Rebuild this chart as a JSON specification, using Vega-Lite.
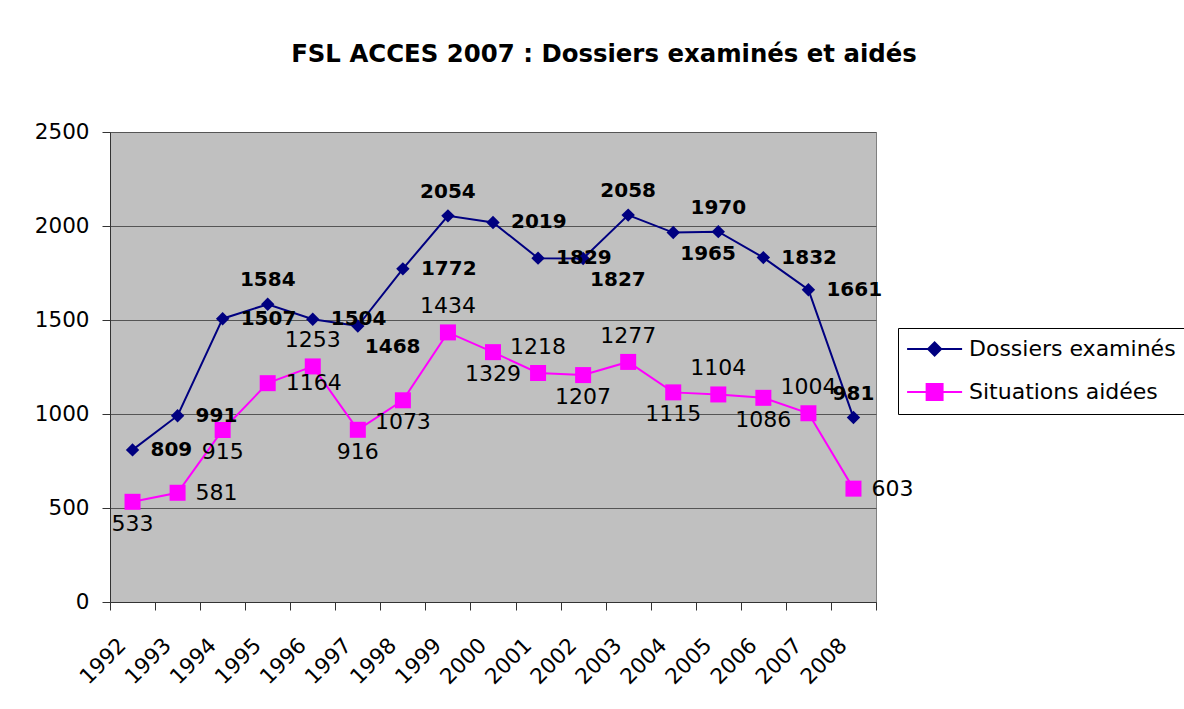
{
  "$schema": "https://vega.github.io/schema/vega-lite/v6.json",
  "width": 766,
  "height": 470,
  "autosize": {"type": "none"},
  "padding": {"left": 110, "top": 132, "right": 308, "bottom": 107},
  "background": "white",
  "title": {
    "text": "FSL ACCES 2007 : Dossiers examinés et aidés",
    "font": "DejaVu Sans",
    "fontSize": 24.4,
    "fontWeight": "bold",
    "color": "black",
    "anchor": "middle",
    "frame": "group",
    "dx": 111,
    "offset": 54
  },
  "config": {
    "view": {"fill": "#C0C0C0", "stroke": "#808080", "strokeWidth": 1},
    "axis": {
      "labelFont": "DejaVu Sans",
      "labelFontSize": 21.5,
      "labelColor": "black",
      "domainColor": "#333333",
      "tickColor": "#333333",
      "tickSize": 8,
      "title": null
    },
    "legend": {
      "orient": "none",
      "legendX": 788,
      "legendY": 196,
      "strokeColor": "black",
      "fillColor": "white",
      "padding": 10,
      "labelFont": "DejaVu Sans",
      "labelFontSize": 22,
      "labelColor": "black",
      "labelLimit": 400,
      "symbolSize": 189,
      "rowPadding": 20,
      "labelOffset": 39,
      "title": null
    }
  },
  "data": {
    "values": [
      {"year": "1992", "series": "Dossiers examinés", "value": 809},
      {"year": "1993", "series": "Dossiers examinés", "value": 991},
      {"year": "1994", "series": "Dossiers examinés", "value": 1507},
      {"year": "1995", "series": "Dossiers examinés", "value": 1584},
      {"year": "1996", "series": "Dossiers examinés", "value": 1504},
      {"year": "1997", "series": "Dossiers examinés", "value": 1468},
      {"year": "1998", "series": "Dossiers examinés", "value": 1772},
      {"year": "1999", "series": "Dossiers examinés", "value": 2054},
      {"year": "2000", "series": "Dossiers examinés", "value": 2019},
      {"year": "2001", "series": "Dossiers examinés", "value": 1829},
      {"year": "2002", "series": "Dossiers examinés", "value": 1827},
      {"year": "2003", "series": "Dossiers examinés", "value": 2058},
      {"year": "2004", "series": "Dossiers examinés", "value": 1965},
      {"year": "2005", "series": "Dossiers examinés", "value": 1970},
      {"year": "2006", "series": "Dossiers examinés", "value": 1832},
      {"year": "2007", "series": "Dossiers examinés", "value": 1661},
      {"year": "2008", "series": "Dossiers examinés", "value": 981},
      {"year": "1992", "series": "Situations aidées", "value": 533},
      {"year": "1993", "series": "Situations aidées", "value": 581},
      {"year": "1994", "series": "Situations aidées", "value": 915},
      {"year": "1995", "series": "Situations aidées", "value": 1164},
      {"year": "1996", "series": "Situations aidées", "value": 1253},
      {"year": "1997", "series": "Situations aidées", "value": 916},
      {"year": "1998", "series": "Situations aidées", "value": 1073},
      {"year": "1999", "series": "Situations aidées", "value": 1434},
      {"year": "2000", "series": "Situations aidées", "value": 1329},
      {"year": "2001", "series": "Situations aidées", "value": 1218},
      {"year": "2002", "series": "Situations aidées", "value": 1207},
      {"year": "2003", "series": "Situations aidées", "value": 1277},
      {"year": "2004", "series": "Situations aidées", "value": 1115},
      {"year": "2005", "series": "Situations aidées", "value": 1104},
      {"year": "2006", "series": "Situations aidées", "value": 1086},
      {"year": "2007", "series": "Situations aidées", "value": 1004},
      {"year": "2008", "series": "Situations aidées", "value": 603}
    ]
  },
  "transform": [
    {"window": [{"op": "lag", "field": "value", "as": "prev"}, {"op": "lead", "field": "value", "as": "next"}, {"op": "row_number", "as": "idx"}], "groupby": ["series"], "sort": [{"field": "year"}]},
    {"calculate": "datum.series === 'Situations aidées' ? (datum.next == null ? 'right' : datum.prev == null ? 'below' : (datum.value > datum.prev && datum.value > datum.next) ? 'above' : (datum.value < datum.prev && datum.value < datum.next) ? 'below' : (datum.idx % 2 === 1 ? 'below' : (datum.value < datum.prev ? 'above' : 'right'))) : (datum.prev == null ? 'right' : datum.next == null ? 'above' : (datum.value > datum.prev && datum.value > datum.next) ? 'above' : (datum.value < datum.prev && datum.value < datum.next) ? 'belowright' : 'right')", "as": "pos"}
  ],
  "encoding": {
    "x": {
      "field": "year",
      "type": "ordinal",
      "scale": {"paddingInner": 0, "paddingOuter": 0},
      "axis": {
        "tickBand": "extent",
        "labelAngle": -45,
        "labelAlign": "right",
        "labelBaseline": "middle",
        "labelPadding": 32,
        "labelOffset": -10,
        "grid": false
      }
    },
    "y": {
      "field": "value",
      "type": "quantitative",
      "scale": {"domain": [0, 2500], "nice": false},
      "axis": {
        "values": [0, 500, 1000, 1500, 2000, 2500],
        "format": "d",
        "grid": true,
        "gridColor": "#555555",
        "gridOpacity": 1,
        "labelPadding": 13
      }
    },
    "color": {
      "field": "series",
      "type": "nominal",
      "scale": {"domain": ["Dossiers examinés", "Situations aidées"], "range": ["#000080", "#FF00FF"]},
      "legend": {
        "encode": {
          "symbols": {
            "update": {
              "shape": {"signal": "datum.value === 'Dossiers examinés' ? 'M-1.73,0H6.27M2.27,-0.95L3.22,0L2.27,0.95L1.32,0Z' : 'M-1.73,0H6.27M1.11,-1.16H3.43V1.16H1.11Z'"},
              "fill": {"scale": "color", "field": "value"},
              "stroke": {"scale": "color", "field": "value"},
              "strokeWidth": {"value": 2},
              "opacity": {"value": 1},
              "fillOpacity": {"value": 1}
            }
          }
        }
      }
    }
  },
  "layer": [
    {"mark": {"type": "line", "strokeWidth": 2}},
    {
      "transform": [{"filter": "datum.series === 'Dossiers examinés'"}],
      "mark": {"type": "point", "shape": "diamond", "filled": true, "opacity": 1, "size": 180}
    },
    {
      "transform": [{"filter": "datum.series === 'Situations aidées'"}],
      "mark": {"type": "point", "shape": "square", "filled": true, "opacity": 1, "size": 256}
    },
    {
      "transform": [{"filter": "datum.series === 'Dossiers examinés' && datum.pos === 'right'"}],
      "mark": {"type": "text", "align": "left", "baseline": "middle", "dx": 18, "font": "DejaVu Sans", "fontSize": 20, "fontWeight": "bold"},
      "encoding": {"text": {"field": "value", "type": "quantitative", "format": "d"}, "color": {"value": "black"}}
    },
    {
      "transform": [{"filter": "datum.series === 'Dossiers examinés' && datum.pos === 'above'"}],
      "mark": {"type": "text", "align": "center", "baseline": "bottom", "dy": -14, "font": "DejaVu Sans", "fontSize": 20, "fontWeight": "bold"},
      "encoding": {"text": {"field": "value", "type": "quantitative", "format": "d"}, "color": {"value": "black"}}
    },
    {
      "transform": [{"filter": "datum.series === 'Dossiers examinés' && datum.pos === 'belowright'"}],
      "mark": {"type": "text", "align": "left", "baseline": "top", "dx": 7, "dy": 11, "font": "DejaVu Sans", "fontSize": 20, "fontWeight": "bold"},
      "encoding": {"text": {"field": "value", "type": "quantitative", "format": "d"}, "color": {"value": "black"}}
    },
    {
      "transform": [{"filter": "datum.series === 'Situations aidées' && datum.pos === 'right'"}],
      "mark": {"type": "text", "align": "left", "baseline": "middle", "dx": 18, "font": "DejaVu Sans", "fontSize": 22},
      "encoding": {"text": {"field": "value", "type": "quantitative", "format": "d"}, "color": {"value": "black"}}
    },
    {
      "transform": [{"filter": "datum.series === 'Situations aidées' && datum.pos === 'above'"}],
      "mark": {"type": "text", "align": "center", "baseline": "bottom", "dy": -14, "font": "DejaVu Sans", "fontSize": 22},
      "encoding": {"text": {"field": "value", "type": "quantitative", "format": "d"}, "color": {"value": "black"}}
    },
    {
      "transform": [{"filter": "datum.series === 'Situations aidées' && datum.pos === 'below'"}],
      "mark": {"type": "text", "align": "center", "baseline": "top", "dy": 12, "font": "DejaVu Sans", "fontSize": 22},
      "encoding": {"text": {"field": "value", "type": "quantitative", "format": "d"}, "color": {"value": "black"}}
    }
  ]
}
